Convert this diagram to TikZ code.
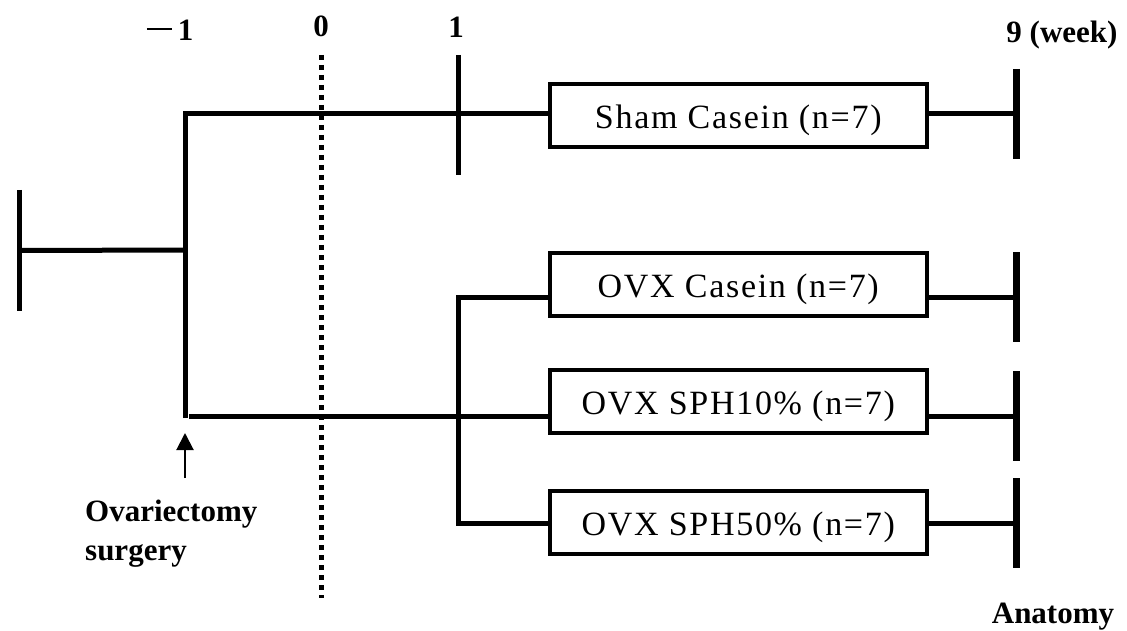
\documentclass[tikz,border=0pt]{standalone}
\usepackage{fontspec}
\setmainfont{Liberation Serif}
\newfontfamily\boxfont{Liberation Serif}[LetterSpace=5]
\usetikzlibrary{arrows.meta}
\begin{document}
\begin{tikzpicture}[x=1pt,y=-1pt,
  conn/.style={line width=5pt},
  grp/.style={draw, line width=4pt, minimum width=377.5pt, minimum height=63pt,
    inner sep=0pt, text height=26pt, text depth=0pt,
    font=\boxfont\fontsize{34}{40}\selectfont},
  endtick/.style={line width=7pt},
  lbl/.style={font=\bfseries\fontsize{31}{39}\selectfont, inner sep=0pt}]
\useasboundingbox (0,0) rectangle (1127,631);

% group boxes
\node[grp] (sham) at (738.25,116) {Sham Casein (n=7)};
\node[grp] (cas) at (738.25,284) {OVX Casein (n=7)};
\node[grp] (s10) at (738.25,401.5) {OVX SPH10\% (n=7)};
\node[grp] (s50) at (738.25,522) {OVX SPH50\% (n=7)};

% junction coordinates
\coordinate (lt) at (19,250.5);
\coordinate (mid) at (185,250);
\coordinate (top) at (185,114);
\coordinate (bot) at (185,418);
\coordinate (botl) at (189,416);
\coordinate (w1) at (458,115);
\coordinate (br1) at (458,297);
\coordinate (br3) at (458,523);
\coordinate (z0) at (321,55);
\coordinate (z1) at (321,598);
\coordinate (e1) at (1016,114);
\coordinate (e2) at (1016,297);
\coordinate (e3) at (1016,416);
\coordinate (e4) at (1016,523);
\coordinate (ar0) at (185,478);
\coordinate (ar1) at (185,433);

% dotted week-0 line
\draw[line width=5pt, dash pattern=on 5pt off 5pt] (z0) -- (z1);

% left start
\draw[conn] ([yshift=60.5pt]lt) -- ([yshift=-60.5pt]lt);
\draw[conn] (lt) -- (mid);
\draw[conn, line join=miter] (bot) -- (top) -- (top -| sham.west);
\draw[conn] (botl) -- (botl -| s10.west);

% week 1 tick
\draw[conn] ([yshift=60pt]w1) -- ([yshift=-60pt]w1);

% OVX branch
\draw[conn, line join=miter] (br1 -| cas.west) -- (br1) -- (br3) -- (br3 -| s50.west);

% right ends
\draw[conn] (sham.east |- e1) -- (e1);
\draw[conn] (cas.east |- e2) -- (e2);
\draw[conn] (s10.east |- e3) -- (e3);
\draw[conn] (s50.east |- e4) -- (e4);
\draw[endtick] ([yshift=45pt]e1) -- ([yshift=-45pt]e1);
\draw[endtick] ([yshift=45pt]e2) -- ([yshift=-45pt]e2);
\draw[endtick] ([yshift=45pt]e3) -- ([yshift=-45pt]e3);
\draw[endtick] ([yshift=45pt]e4) -- ([yshift=-45pt]e4);

% surgery arrow
\draw[line width=2pt, -{Triangle[width=17pt,length=17pt]}] (ar0) -- (ar1);

% labels
\node[lbl, anchor=base] (lm1) at (170,41) {\rule[11pt]{25pt}{2pt}\hspace{6pt}1};
\node[lbl, anchor=base] (l0) at (321,37) {0};
\node[lbl, anchor=base] (l1) at (456,38) {1};
\node[lbl, anchor=base] (l9) at (1062,43) {9 (week)};
\node[lbl, anchor=base] (anat) at (1053,623) {Anatomy};
\node[lbl, anchor=base west, align=left] (ovx) at (85,560) {Ovariectomy\\surgery};
\end{tikzpicture}
\end{document}
